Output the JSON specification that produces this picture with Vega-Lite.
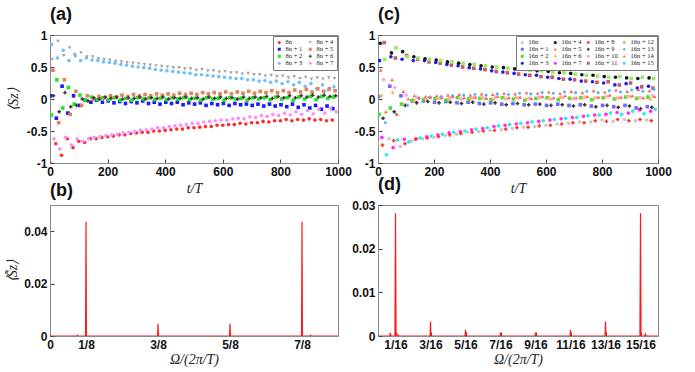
{
"$schema": "https://vega.github.io/schema/vega-lite/v6.json",
"background": "white",
"padding": {"left": 5, "top": 5, "right": 5, "bottom": 5},
"bounds": "flush",
"columns": 2,
"spacing": {"row": 42, "column": 40},
"config": {
  "view": {"stroke": "#8a8a8a", "strokeWidth": 1},
  "axis": {"grid": false, "domainColor": "#8a8a8a", "tickColor": "#444444", "tickSize": -4, "labelFont": "Liberation Sans", "labelFontWeight": "bold", "labelFontSize": 12, "labelColor": "#111111", "labelPadding": 7, "titleFont": "Liberation Serif", "titleFontStyle": "italic", "titleFontWeight": "normal", "titleFontSize": 14, "titleColor": "#222222", "labelOverlap": false, "labelFlush": false},
  "title": {"font": "Liberation Sans", "fontSize": 18, "fontWeight": "bold", "anchor": "start", "frame": "group", "offset": 5, "color": "#111111"},
  "legend": {"orient": "top-right", "offset": 1, "title": null, "labelFont": "Liberation Serif", "labelFontSize": 6.5, "labelColor": "#222222", "symbolSize": 9, "rowPadding": 0, "columnPadding": 4, "padding": 3, "labelOffset": 3, "strokeColor": "#777777", "fillColor": "white", "symbolStrokeWidth": 0}
},
"resolve": {"scale": {"color": "independent", "shape": "independent", "x": "independent", "y": "independent"}, "legend": {"color": "independent", "shape": "independent"}},
"datasets": {
"a": [
{"k":0,"t":0,"v":-1},{"k":0,"t":20,"v":-0.7},{"k":0,"t":40,"v":-0.88},{"k":0,"t":60,"v":-0.62},{"k":0,"t":80,"v":-0.76},{"k":0,"t":100,"v":-0.66},{"k":0,"t":120,"v":-0.68},{"k":0,"t":140,"v":-0.62},{"k":0,"t":160,"v":-0.62},{"k":0,"t":180,"v":-0.6},{"k":0,"t":200,"v":-0.59},{"k":0,"t":220,"v":-0.58},{"k":0,"t":240,"v":-0.56},{"k":0,"t":260,"v":-0.56},{"k":0,"t":280,"v":-0.54},{"k":0,"t":300,"v":-0.53},{"k":0,"t":320,"v":-0.52},{"k":0,"t":340,"v":-0.52},{"k":0,"t":360,"v":-0.5},{"k":0,"t":380,"v":-0.5},{"k":0,"t":400,"v":-0.49},{"k":0,"t":420,"v":-0.48},{"k":0,"t":440,"v":-0.47},{"k":0,"t":460,"v":-0.47},{"k":0,"t":480,"v":-0.45},{"k":0,"t":500,"v":-0.45},{"k":0,"t":520,"v":-0.44},{"k":0,"t":540,"v":-0.43},{"k":0,"t":560,"v":-0.43},{"k":0,"t":580,"v":-0.41},{"k":0,"t":600,"v":-0.41},{"k":0,"t":620,"v":-0.4},{"k":0,"t":640,"v":-0.4},{"k":0,"t":660,"v":-0.38},{"k":0,"t":680,"v":-0.39},{"k":0,"t":700,"v":-0.37},{"k":0,"t":720,"v":-0.37},{"k":0,"t":740,"v":-0.35},{"k":0,"t":760,"v":-0.36},{"k":0,"t":780,"v":-0.34},{"k":0,"t":800,"v":-0.34},{"k":0,"t":820,"v":-0.32},{"k":0,"t":840,"v":-0.34},{"k":0,"t":860,"v":-0.32},{"k":0,"t":880,"v":-0.33},{"k":0,"t":900,"v":-0.31},{"k":0,"t":920,"v":-0.33},{"k":0,"t":940,"v":-0.32},{"k":0,"t":960,"v":-0.34},{"k":0,"t":980,"v":-0.33},
{"k":1,"t":2,"v":0.05},{"k":1,"t":22,"v":-0.3},{"k":1,"t":42,"v":0.2},{"k":1,"t":62,"v":-0.22},{"k":1,"t":82,"v":0.05},{"k":1,"t":102,"v":-0.1},{"k":1,"t":122,"v":-0.02},{"k":1,"t":142,"v":-0.05},{"k":1,"t":162,"v":-0.02},{"k":1,"t":182,"v":-0.05},{"k":1,"t":202,"v":-0.03},{"k":1,"t":222,"v":-0.06},{"k":1,"t":242,"v":-0.04},{"k":1,"t":262,"v":-0.07},{"k":1,"t":282,"v":-0.04},{"k":1,"t":302,"v":-0.06},{"k":1,"t":322,"v":-0.03},{"k":1,"t":342,"v":-0.07},{"k":1,"t":362,"v":-0.05},{"k":1,"t":382,"v":-0.08},{"k":1,"t":402,"v":-0.05},{"k":1,"t":422,"v":-0.07},{"k":1,"t":442,"v":-0.05},{"k":1,"t":462,"v":-0.09},{"k":1,"t":482,"v":-0.06},{"k":1,"t":502,"v":-0.08},{"k":1,"t":522,"v":-0.06},{"k":1,"t":542,"v":-0.1},{"k":1,"t":562,"v":-0.07},{"k":1,"t":582,"v":-0.09},{"k":1,"t":602,"v":-0.07},{"k":1,"t":622,"v":-0.1},{"k":1,"t":642,"v":-0.07},{"k":1,"t":662,"v":-0.09},{"k":1,"t":682,"v":-0.08},{"k":1,"t":702,"v":-0.1},{"k":1,"t":722,"v":-0.08},{"k":1,"t":742,"v":-0.11},{"k":1,"t":762,"v":-0.08},{"k":1,"t":782,"v":-0.11},{"k":1,"t":802,"v":-0.09},{"k":1,"t":822,"v":-0.12},{"k":1,"t":842,"v":-0.08},{"k":1,"t":862,"v":-0.13},{"k":1,"t":882,"v":-0.09},{"k":1,"t":902,"v":-0.14},{"k":1,"t":922,"v":-0.1},{"k":1,"t":942,"v":-0.16},{"k":1,"t":962,"v":-0.11},{"k":1,"t":982,"v":-0.15},
{"k":2,"t":4,"v":-0.25},{"k":2,"t":24,"v":0.3},{"k":2,"t":44,"v":-0.14},{"k":2,"t":64,"v":0.18},{"k":2,"t":84,"v":-0.08},{"k":2,"t":104,"v":0.06},{"k":2,"t":124,"v":-0.02},{"k":2,"t":144,"v":0.03},{"k":2,"t":164,"v":-0.01},{"k":2,"t":184,"v":0.02},{"k":2,"t":204,"v":-0.01},{"k":2,"t":224,"v":0.02},{"k":2,"t":244,"v":-0.02},{"k":2,"t":264,"v":0.01},{"k":2,"t":284,"v":-0.02},{"k":2,"t":304,"v":0.02},{"k":2,"t":324,"v":0},{"k":2,"t":344,"v":0.02},{"k":2,"t":364,"v":-0.01},{"k":2,"t":384,"v":0.01},{"k":2,"t":404,"v":-0.01},{"k":2,"t":424,"v":0.02},{"k":2,"t":444,"v":0},{"k":2,"t":464,"v":0.02},{"k":2,"t":484,"v":-0.01},{"k":2,"t":504,"v":0.01},{"k":2,"t":524,"v":-0.02},{"k":2,"t":544,"v":0.02},{"k":2,"t":564,"v":0},{"k":2,"t":584,"v":0.01},{"k":2,"t":604,"v":-0.02},{"k":2,"t":624,"v":0.02},{"k":2,"t":644,"v":0},{"k":2,"t":664,"v":0.01},{"k":2,"t":684,"v":-0.02},{"k":2,"t":704,"v":0.02},{"k":2,"t":724,"v":0},{"k":2,"t":744,"v":0.02},{"k":2,"t":764,"v":-0.01},{"k":2,"t":784,"v":0.03},{"k":2,"t":804,"v":0},{"k":2,"t":824,"v":0.02},{"k":2,"t":844,"v":-0.02},{"k":2,"t":864,"v":0.03},{"k":2,"t":884,"v":0},{"k":2,"t":904,"v":0.04},{"k":2,"t":924,"v":-0.01},{"k":2,"t":944,"v":0.04},{"k":2,"t":964,"v":0.01},{"k":2,"t":984,"v":0.03},
{"k":3,"t":6,"v":0.85},{"k":3,"t":26,"v":0.64},{"k":3,"t":46,"v":0.76},{"k":3,"t":66,"v":0.6},{"k":3,"t":86,"v":0.7},{"k":3,"t":106,"v":0.6},{"k":3,"t":126,"v":0.64},{"k":3,"t":146,"v":0.61},{"k":3,"t":166,"v":0.6},{"k":3,"t":186,"v":0.58},{"k":3,"t":206,"v":0.57},{"k":3,"t":226,"v":0.56},{"k":3,"t":246,"v":0.54},{"k":3,"t":266,"v":0.53},{"k":3,"t":286,"v":0.51},{"k":3,"t":306,"v":0.5},{"k":3,"t":326,"v":0.49},{"k":3,"t":346,"v":0.48},{"k":3,"t":366,"v":0.46},{"k":3,"t":386,"v":0.45},{"k":3,"t":406,"v":0.44},{"k":3,"t":426,"v":0.43},{"k":3,"t":446,"v":0.42},{"k":3,"t":466,"v":0.41},{"k":3,"t":486,"v":0.4},{"k":3,"t":506,"v":0.38},{"k":3,"t":526,"v":0.38},{"k":3,"t":546,"v":0.37},{"k":3,"t":566,"v":0.36},{"k":3,"t":586,"v":0.35},{"k":3,"t":606,"v":0.34},{"k":3,"t":626,"v":0.33},{"k":3,"t":646,"v":0.32},{"k":3,"t":666,"v":0.32},{"k":3,"t":686,"v":0.3},{"k":3,"t":706,"v":0.3},{"k":3,"t":726,"v":0.28},{"k":3,"t":746,"v":0.29},{"k":3,"t":766,"v":0.26},{"k":3,"t":786,"v":0.28},{"k":3,"t":806,"v":0.24},{"k":3,"t":826,"v":0.27},{"k":3,"t":846,"v":0.22},{"k":3,"t":866,"v":0.26},{"k":3,"t":886,"v":0.2},{"k":3,"t":906,"v":0.24},{"k":3,"t":926,"v":0.16},{"k":3,"t":946,"v":0.22},{"k":3,"t":966,"v":0.14},{"k":3,"t":986,"v":0.19},
{"k":4,"t":8,"v":0.62},{"k":4,"t":28,"v":0.9},{"k":4,"t":48,"v":0.68},{"k":4,"t":68,"v":0.8},{"k":4,"t":88,"v":0.66},{"k":4,"t":108,"v":0.72},{"k":4,"t":128,"v":0.66},{"k":4,"t":148,"v":0.66},{"k":4,"t":168,"v":0.63},{"k":4,"t":188,"v":0.62},{"k":4,"t":208,"v":0.61},{"k":4,"t":228,"v":0.59},{"k":4,"t":248,"v":0.58},{"k":4,"t":268,"v":0.57},{"k":4,"t":288,"v":0.56},{"k":4,"t":308,"v":0.55},{"k":4,"t":328,"v":0.54},{"k":4,"t":348,"v":0.53},{"k":4,"t":368,"v":0.52},{"k":4,"t":388,"v":0.51},{"k":4,"t":408,"v":0.5},{"k":4,"t":428,"v":0.49},{"k":4,"t":448,"v":0.49},{"k":4,"t":468,"v":0.47},{"k":4,"t":488,"v":0.47},{"k":4,"t":508,"v":0.45},{"k":4,"t":528,"v":0.46},{"k":4,"t":548,"v":0.44},{"k":4,"t":568,"v":0.44},{"k":4,"t":588,"v":0.42},{"k":4,"t":608,"v":0.43},{"k":4,"t":628,"v":0.41},{"k":4,"t":648,"v":0.41},{"k":4,"t":668,"v":0.39},{"k":4,"t":688,"v":0.4},{"k":4,"t":708,"v":0.38},{"k":4,"t":728,"v":0.38},{"k":4,"t":748,"v":0.36},{"k":4,"t":768,"v":0.37},{"k":4,"t":788,"v":0.35},{"k":4,"t":808,"v":0.36},{"k":4,"t":828,"v":0.33},{"k":4,"t":848,"v":0.35},{"k":4,"t":868,"v":0.32},{"k":4,"t":888,"v":0.34},{"k":4,"t":908,"v":0.31},{"k":4,"t":928,"v":0.33},{"k":4,"t":948,"v":0.31},{"k":4,"t":968,"v":0.33},{"k":4,"t":988,"v":0.32},
{"k":5,"t":10,"v":0.45},{"k":5,"t":30,"v":-0.37},{"k":5,"t":50,"v":0.3},{"k":5,"t":70,"v":-0.24},{"k":5,"t":90,"v":0.12},{"k":5,"t":110,"v":-0.1},{"k":5,"t":130,"v":0.05},{"k":5,"t":150,"v":0},{"k":5,"t":170,"v":0.04},{"k":5,"t":190,"v":0.02},{"k":5,"t":210,"v":0.05},{"k":5,"t":230,"v":0.03},{"k":5,"t":250,"v":0.06},{"k":5,"t":270,"v":0.04},{"k":5,"t":290,"v":0.07},{"k":5,"t":310,"v":0.05},{"k":5,"t":330,"v":0.07},{"k":5,"t":350,"v":0.05},{"k":5,"t":370,"v":0.08},{"k":5,"t":390,"v":0.06},{"k":5,"t":410,"v":0.08},{"k":5,"t":430,"v":0.06},{"k":5,"t":450,"v":0.09},{"k":5,"t":470,"v":0.07},{"k":5,"t":490,"v":0.09},{"k":5,"t":510,"v":0.07},{"k":5,"t":530,"v":0.1},{"k":5,"t":550,"v":0.08},{"k":5,"t":570,"v":0.1},{"k":5,"t":590,"v":0.08},{"k":5,"t":610,"v":0.11},{"k":5,"t":630,"v":0.08},{"k":5,"t":650,"v":0.11},{"k":5,"t":670,"v":0.09},{"k":5,"t":690,"v":0.12},{"k":5,"t":710,"v":0.09},{"k":5,"t":730,"v":0.12},{"k":5,"t":750,"v":0.1},{"k":5,"t":770,"v":0.13},{"k":5,"t":790,"v":0.1},{"k":5,"t":810,"v":0.13},{"k":5,"t":830,"v":0.1},{"k":5,"t":850,"v":0.14},{"k":5,"t":870,"v":0.11},{"k":5,"t":890,"v":0.15},{"k":5,"t":910,"v":0.11},{"k":5,"t":930,"v":0.16},{"k":5,"t":950,"v":0.12},{"k":5,"t":970,"v":0.16},{"k":5,"t":990,"v":0.13},
{"k":6,"t":12,"v":0.05},{"k":6,"t":32,"v":-0.2},{"k":6,"t":52,"v":0.1},{"k":6,"t":72,"v":-0.12},{"k":6,"t":92,"v":-0.1},{"k":6,"t":112,"v":0},{"k":6,"t":132,"v":-0.03},{"k":6,"t":152,"v":0.02},{"k":6,"t":172,"v":0},{"k":6,"t":192,"v":0.03},{"k":6,"t":212,"v":0.01},{"k":6,"t":232,"v":0.03},{"k":6,"t":252,"v":0},{"k":6,"t":272,"v":0.02},{"k":6,"t":292,"v":0.01},{"k":6,"t":312,"v":0.03},{"k":6,"t":332,"v":0},{"k":6,"t":352,"v":0.02},{"k":6,"t":372,"v":0.01},{"k":6,"t":392,"v":0.03},{"k":6,"t":412,"v":0},{"k":6,"t":432,"v":0.02},{"k":6,"t":452,"v":0.01},{"k":6,"t":472,"v":0.03},{"k":6,"t":492,"v":0.01},{"k":6,"t":512,"v":0.02},{"k":6,"t":532,"v":0},{"k":6,"t":552,"v":0.03},{"k":6,"t":572,"v":0.01},{"k":6,"t":592,"v":0.03},{"k":6,"t":612,"v":0.01},{"k":6,"t":632,"v":0.02},{"k":6,"t":652,"v":0},{"k":6,"t":672,"v":0.03},{"k":6,"t":692,"v":0.01},{"k":6,"t":712,"v":0.03},{"k":6,"t":732,"v":0.02},{"k":6,"t":752,"v":0.04},{"k":6,"t":772,"v":0.01},{"k":6,"t":792,"v":0.04},{"k":6,"t":812,"v":0.02},{"k":6,"t":832,"v":0.05},{"k":6,"t":852,"v":0.02},{"k":6,"t":872,"v":0.05},{"k":6,"t":892,"v":0.03},{"k":6,"t":912,"v":0.06},{"k":6,"t":932,"v":0.03},{"k":6,"t":952,"v":0.06},{"k":6,"t":972,"v":0.04},{"k":6,"t":992,"v":0.05},
{"k":7,"t":14,"v":-0.62},{"k":7,"t":34,"v":-0.78},{"k":7,"t":54,"v":-0.6},{"k":7,"t":74,"v":-0.72},{"k":7,"t":94,"v":-0.62},{"k":7,"t":114,"v":-0.66},{"k":7,"t":134,"v":-0.62},{"k":7,"t":154,"v":-0.6},{"k":7,"t":174,"v":-0.59},{"k":7,"t":194,"v":-0.57},{"k":7,"t":214,"v":-0.56},{"k":7,"t":234,"v":-0.55},{"k":7,"t":254,"v":-0.53},{"k":7,"t":274,"v":-0.52},{"k":7,"t":294,"v":-0.51},{"k":7,"t":314,"v":-0.49},{"k":7,"t":334,"v":-0.48},{"k":7,"t":354,"v":-0.47},{"k":7,"t":374,"v":-0.45},{"k":7,"t":394,"v":-0.45},{"k":7,"t":414,"v":-0.43},{"k":7,"t":434,"v":-0.42},{"k":7,"t":454,"v":-0.41},{"k":7,"t":474,"v":-0.4},{"k":7,"t":494,"v":-0.38},{"k":7,"t":514,"v":-0.38},{"k":7,"t":534,"v":-0.36},{"k":7,"t":554,"v":-0.35},{"k":7,"t":574,"v":-0.34},{"k":7,"t":594,"v":-0.33},{"k":7,"t":614,"v":-0.33},{"k":7,"t":634,"v":-0.31},{"k":7,"t":654,"v":-0.3},{"k":7,"t":674,"v":-0.31},{"k":7,"t":694,"v":-0.28},{"k":7,"t":714,"v":-0.29},{"k":7,"t":734,"v":-0.26},{"k":7,"t":754,"v":-0.27},{"k":7,"t":774,"v":-0.24},{"k":7,"t":794,"v":-0.26},{"k":7,"t":814,"v":-0.22},{"k":7,"t":834,"v":-0.25},{"k":7,"t":854,"v":-0.2},{"k":7,"t":874,"v":-0.24},{"k":7,"t":894,"v":-0.18},{"k":7,"t":914,"v":-0.23},{"k":7,"t":934,"v":-0.16},{"k":7,"t":954,"v":-0.22},{"k":7,"t":974,"v":-0.15},{"k":7,"t":994,"v":-0.2}
],
"c": [
{"k":0,"t":0,"v":-0.7},{"k":0,"t":40,"v":-0.62},{"k":0,"t":80,"v":-0.74},{"k":0,"t":120,"v":-0.66},{"k":0,"t":160,"v":-0.62},{"k":0,"t":200,"v":-0.6},{"k":0,"t":240,"v":-0.57},{"k":0,"t":280,"v":-0.55},{"k":0,"t":320,"v":-0.52},{"k":0,"t":360,"v":-0.51},{"k":0,"t":400,"v":-0.49},{"k":0,"t":440,"v":-0.48},{"k":0,"t":480,"v":-0.46},{"k":0,"t":520,"v":-0.44},{"k":0,"t":560,"v":-0.43},{"k":0,"t":600,"v":-0.41},{"k":0,"t":640,"v":-0.39},{"k":0,"t":680,"v":-0.38},{"k":0,"t":720,"v":-0.36},{"k":0,"t":760,"v":-0.36},{"k":0,"t":800,"v":-0.33},{"k":0,"t":840,"v":-0.35},{"k":0,"t":880,"v":-0.32},{"k":0,"t":920,"v":-0.34},{"k":0,"t":960,"v":-0.33},
{"k":1,"t":2,"v":0.04},{"k":1,"t":42,"v":0.2},{"k":1,"t":82,"v":0.05},{"k":1,"t":122,"v":-0.03},{"k":1,"t":162,"v":-0.03},{"k":1,"t":202,"v":-0.05},{"k":1,"t":242,"v":-0.04},{"k":1,"t":282,"v":-0.06},{"k":1,"t":322,"v":-0.05},{"k":1,"t":362,"v":-0.07},{"k":1,"t":402,"v":-0.06},{"k":1,"t":442,"v":-0.08},{"k":1,"t":482,"v":-0.07},{"k":1,"t":522,"v":-0.09},{"k":1,"t":562,"v":-0.08},{"k":1,"t":602,"v":-0.1},{"k":1,"t":642,"v":-0.08},{"k":1,"t":682,"v":-0.1},{"k":1,"t":722,"v":-0.09},{"k":1,"t":762,"v":-0.11},{"k":1,"t":802,"v":-0.1},{"k":1,"t":842,"v":-0.12},{"k":1,"t":882,"v":-0.1},{"k":1,"t":922,"v":-0.14},{"k":1,"t":962,"v":-0.12},
{"k":2,"t":4,"v":-0.24},{"k":2,"t":44,"v":-0.14},{"k":2,"t":84,"v":-0.08},{"k":2,"t":124,"v":-0.02},{"k":2,"t":164,"v":-0.01},{"k":2,"t":204,"v":0.01},{"k":2,"t":244,"v":-0.02},{"k":2,"t":284,"v":0.02},{"k":2,"t":324,"v":0},{"k":2,"t":364,"v":0.01},{"k":2,"t":404,"v":-0.01},{"k":2,"t":444,"v":0.02},{"k":2,"t":484,"v":0},{"k":2,"t":524,"v":-0.02},{"k":2,"t":564,"v":0.01},{"k":2,"t":604,"v":0.02},{"k":2,"t":644,"v":-0.01},{"k":2,"t":684,"v":0.01},{"k":2,"t":724,"v":0.02},{"k":2,"t":764,"v":-0.01},{"k":2,"t":804,"v":0.02},{"k":2,"t":844,"v":0},{"k":2,"t":884,"v":0.03},{"k":2,"t":924,"v":0.01},{"k":2,"t":964,"v":0.03},
{"k":3,"t":6,"v":0.6},{"k":3,"t":46,"v":0.66},{"k":3,"t":86,"v":0.62},{"k":3,"t":126,"v":0.6},{"k":3,"t":166,"v":0.6},{"k":3,"t":206,"v":0.57},{"k":3,"t":246,"v":0.54},{"k":3,"t":286,"v":0.52},{"k":3,"t":326,"v":0.49},{"k":3,"t":366,"v":0.47},{"k":3,"t":406,"v":0.44},{"k":3,"t":446,"v":0.42},{"k":3,"t":486,"v":0.4},{"k":3,"t":526,"v":0.38},{"k":3,"t":566,"v":0.37},{"k":3,"t":606,"v":0.34},{"k":3,"t":646,"v":0.32},{"k":3,"t":686,"v":0.31},{"k":3,"t":726,"v":0.28},{"k":3,"t":766,"v":0.27},{"k":3,"t":806,"v":0.25},{"k":3,"t":846,"v":0.22},{"k":3,"t":886,"v":0.24},{"k":3,"t":926,"v":0.17},{"k":3,"t":966,"v":0.2},
{"k":4,"t":8,"v":0.87},{"k":4,"t":48,"v":0.72},{"k":4,"t":88,"v":0.74},{"k":4,"t":128,"v":0.66},{"k":4,"t":168,"v":0.63},{"k":4,"t":208,"v":0.61},{"k":4,"t":248,"v":0.58},{"k":4,"t":288,"v":0.56},{"k":4,"t":328,"v":0.54},{"k":4,"t":368,"v":0.52},{"k":4,"t":408,"v":0.5},{"k":4,"t":448,"v":0.49},{"k":4,"t":488,"v":0.47},{"k":4,"t":528,"v":0.46},{"k":4,"t":568,"v":0.44},{"k":4,"t":608,"v":0.43},{"k":4,"t":648,"v":0.41},{"k":4,"t":688,"v":0.4},{"k":4,"t":728,"v":0.38},{"k":4,"t":768,"v":0.37},{"k":4,"t":808,"v":0.35},{"k":4,"t":848,"v":0.34},{"k":4,"t":888,"v":0.33},{"k":4,"t":928,"v":0.32},{"k":4,"t":968,"v":0.33},
{"k":5,"t":10,"v":0.45},{"k":5,"t":50,"v":0.3},{"k":5,"t":90,"v":0.12},{"k":5,"t":130,"v":0.05},{"k":5,"t":170,"v":0.04},{"k":5,"t":210,"v":0.05},{"k":5,"t":250,"v":0.06},{"k":5,"t":290,"v":0.07},{"k":5,"t":330,"v":0.06},{"k":5,"t":370,"v":0.08},{"k":5,"t":410,"v":0.07},{"k":5,"t":450,"v":0.09},{"k":5,"t":490,"v":0.08},{"k":5,"t":530,"v":0.1},{"k":5,"t":570,"v":0.09},{"k":5,"t":610,"v":0.11},{"k":5,"t":650,"v":0.09},{"k":5,"t":690,"v":0.12},{"k":5,"t":730,"v":0.1},{"k":5,"t":770,"v":0.13},{"k":5,"t":810,"v":0.11},{"k":5,"t":850,"v":0.14},{"k":5,"t":890,"v":0.12},{"k":5,"t":930,"v":0.15},{"k":5,"t":970,"v":0.13},
{"k":6,"t":12,"v":0.05},{"k":6,"t":52,"v":0.1},{"k":6,"t":92,"v":-0.1},{"k":6,"t":132,"v":-0.03},{"k":6,"t":172,"v":0},{"k":6,"t":212,"v":0.01},{"k":6,"t":252,"v":0},{"k":6,"t":292,"v":0.01},{"k":6,"t":332,"v":0},{"k":6,"t":372,"v":0.02},{"k":6,"t":412,"v":0},{"k":6,"t":452,"v":0.01},{"k":6,"t":492,"v":0.02},{"k":6,"t":532,"v":0},{"k":6,"t":572,"v":0.02},{"k":6,"t":612,"v":0.01},{"k":6,"t":652,"v":0.03},{"k":6,"t":692,"v":0},{"k":6,"t":732,"v":0.02},{"k":6,"t":772,"v":0.01},{"k":6,"t":812,"v":0.03},{"k":6,"t":852,"v":0.01},{"k":6,"t":892,"v":0.04},{"k":6,"t":932,"v":0.02},{"k":6,"t":972,"v":0},
{"k":7,"t":14,"v":-0.6},{"k":7,"t":54,"v":-0.76},{"k":7,"t":94,"v":-0.63},{"k":7,"t":134,"v":-0.63},{"k":7,"t":174,"v":-0.59},{"k":7,"t":214,"v":-0.56},{"k":7,"t":254,"v":-0.53},{"k":7,"t":294,"v":-0.51},{"k":7,"t":334,"v":-0.48},{"k":7,"t":374,"v":-0.46},{"k":7,"t":414,"v":-0.43},{"k":7,"t":454,"v":-0.41},{"k":7,"t":494,"v":-0.39},{"k":7,"t":534,"v":-0.37},{"k":7,"t":574,"v":-0.35},{"k":7,"t":614,"v":-0.33},{"k":7,"t":654,"v":-0.31},{"k":7,"t":694,"v":-0.29},{"k":7,"t":734,"v":-0.27},{"k":7,"t":774,"v":-0.25},{"k":7,"t":814,"v":-0.24},{"k":7,"t":854,"v":-0.21},{"k":7,"t":894,"v":-0.22},{"k":7,"t":934,"v":-0.17},{"k":7,"t":974,"v":-0.19},
{"k":8,"t":16,"v":-0.72},{"k":8,"t":56,"v":-0.65},{"k":8,"t":96,"v":-0.7},{"k":8,"t":136,"v":-0.62},{"k":8,"t":176,"v":-0.61},{"k":8,"t":216,"v":-0.59},{"k":8,"t":256,"v":-0.56},{"k":8,"t":296,"v":-0.54},{"k":8,"t":336,"v":-0.52},{"k":8,"t":376,"v":-0.5},{"k":8,"t":416,"v":-0.49},{"k":8,"t":456,"v":-0.47},{"k":8,"t":496,"v":-0.45},{"k":8,"t":536,"v":-0.44},{"k":8,"t":576,"v":-0.42},{"k":8,"t":616,"v":-0.41},{"k":8,"t":656,"v":-0.39},{"k":8,"t":696,"v":-0.37},{"k":8,"t":736,"v":-0.37},{"k":8,"t":776,"v":-0.34},{"k":8,"t":816,"v":-0.35},{"k":8,"t":856,"v":-0.32},{"k":8,"t":896,"v":-0.34},{"k":8,"t":936,"v":-0.32},{"k":8,"t":976,"v":-0.34},
{"k":9,"t":18,"v":-0.3},{"k":9,"t":58,"v":-0.2},{"k":9,"t":98,"v":-0.1},{"k":9,"t":138,"v":-0.06},{"k":9,"t":178,"v":-0.04},{"k":9,"t":218,"v":-0.06},{"k":9,"t":258,"v":-0.05},{"k":9,"t":298,"v":-0.07},{"k":9,"t":338,"v":-0.05},{"k":9,"t":378,"v":-0.08},{"k":9,"t":418,"v":-0.06},{"k":9,"t":458,"v":-0.09},{"k":9,"t":498,"v":-0.07},{"k":9,"t":538,"v":-0.09},{"k":9,"t":578,"v":-0.08},{"k":9,"t":618,"v":-0.1},{"k":9,"t":658,"v":-0.09},{"k":9,"t":698,"v":-0.11},{"k":9,"t":738,"v":-0.09},{"k":9,"t":778,"v":-0.12},{"k":9,"t":818,"v":-0.1},{"k":9,"t":858,"v":-0.13},{"k":9,"t":898,"v":-0.11},{"k":9,"t":938,"v":-0.15},{"k":9,"t":978,"v":-0.13},
{"k":10,"t":20,"v":0.3},{"k":10,"t":60,"v":0.18},{"k":10,"t":100,"v":0.06},{"k":10,"t":140,"v":0.03},{"k":10,"t":180,"v":0.02},{"k":10,"t":220,"v":0.01},{"k":10,"t":260,"v":0.02},{"k":10,"t":300,"v":0},{"k":10,"t":340,"v":0.02},{"k":10,"t":380,"v":0.01},{"k":10,"t":420,"v":0.03},{"k":10,"t":460,"v":0},{"k":10,"t":500,"v":0.02},{"k":10,"t":540,"v":0.01},{"k":10,"t":580,"v":0.03},{"k":10,"t":620,"v":0},{"k":10,"t":660,"v":0.02},{"k":10,"t":700,"v":0.01},{"k":10,"t":740,"v":0.03},{"k":10,"t":780,"v":0.02},{"k":10,"t":820,"v":0.04},{"k":10,"t":860,"v":0.01},{"k":10,"t":900,"v":0.04},{"k":10,"t":940,"v":0.02},{"k":10,"t":980,"v":0.05},
{"k":11,"t":22,"v":0.88},{"k":11,"t":62,"v":0.64},{"k":11,"t":102,"v":0.68},{"k":11,"t":142,"v":0.62},{"k":11,"t":182,"v":0.58},{"k":11,"t":222,"v":0.56},{"k":11,"t":262,"v":0.53},{"k":11,"t":302,"v":0.5},{"k":11,"t":342,"v":0.48},{"k":11,"t":382,"v":0.46},{"k":11,"t":422,"v":0.43},{"k":11,"t":462,"v":0.41},{"k":11,"t":502,"v":0.39},{"k":11,"t":542,"v":0.37},{"k":11,"t":582,"v":0.35},{"k":11,"t":622,"v":0.34},{"k":11,"t":662,"v":0.31},{"k":11,"t":702,"v":0.3},{"k":11,"t":742,"v":0.28},{"k":11,"t":782,"v":0.26},{"k":11,"t":822,"v":0.27},{"k":11,"t":862,"v":0.22},{"k":11,"t":902,"v":0.25},{"k":11,"t":942,"v":0.19},{"k":11,"t":982,"v":0.17},
{"k":12,"t":24,"v":0.62},{"k":12,"t":64,"v":0.8},{"k":12,"t":104,"v":0.66},{"k":12,"t":144,"v":0.64},{"k":12,"t":184,"v":0.62},{"k":12,"t":224,"v":0.6},{"k":12,"t":264,"v":0.58},{"k":12,"t":304,"v":0.56},{"k":12,"t":344,"v":0.54},{"k":12,"t":384,"v":0.52},{"k":12,"t":424,"v":0.5},{"k":12,"t":464,"v":0.48},{"k":12,"t":504,"v":0.47},{"k":12,"t":544,"v":0.45},{"k":12,"t":584,"v":0.44},{"k":12,"t":624,"v":0.42},{"k":12,"t":664,"v":0.41},{"k":12,"t":704,"v":0.39},{"k":12,"t":744,"v":0.37},{"k":12,"t":784,"v":0.36},{"k":12,"t":824,"v":0.34},{"k":12,"t":864,"v":0.35},{"k":12,"t":904,"v":0.32},{"k":12,"t":944,"v":0.34},{"k":12,"t":984,"v":0.32},
{"k":13,"t":26,"v":-0.37},{"k":13,"t":66,"v":-0.24},{"k":13,"t":106,"v":-0.1},{"k":13,"t":146,"v":0.01},{"k":13,"t":186,"v":0.03},{"k":13,"t":226,"v":0.04},{"k":13,"t":266,"v":0.05},{"k":13,"t":306,"v":0.06},{"k":13,"t":346,"v":0.07},{"k":13,"t":386,"v":0.06},{"k":13,"t":426,"v":0.08},{"k":13,"t":466,"v":0.07},{"k":13,"t":506,"v":0.09},{"k":13,"t":546,"v":0.08},{"k":13,"t":586,"v":0.1},{"k":13,"t":626,"v":0.09},{"k":13,"t":666,"v":0.11},{"k":13,"t":706,"v":0.1},{"k":13,"t":746,"v":0.12},{"k":13,"t":786,"v":0.1},{"k":13,"t":826,"v":0.13},{"k":13,"t":866,"v":0.11},{"k":13,"t":906,"v":0.14},{"k":13,"t":946,"v":0.12},{"k":13,"t":986,"v":0.15},
{"k":14,"t":28,"v":-0.2},{"k":14,"t":68,"v":-0.24},{"k":14,"t":108,"v":0},{"k":14,"t":148,"v":0.02},{"k":14,"t":188,"v":0.03},{"k":14,"t":228,"v":0.02},{"k":14,"t":268,"v":0.04},{"k":14,"t":308,"v":0.02},{"k":14,"t":348,"v":0.03},{"k":14,"t":388,"v":0.01},{"k":14,"t":428,"v":0.04},{"k":14,"t":468,"v":0.02},{"k":14,"t":508,"v":0.03},{"k":14,"t":548,"v":0.01},{"k":14,"t":588,"v":0.04},{"k":14,"t":628,"v":0.02},{"k":14,"t":668,"v":0.05},{"k":14,"t":708,"v":0.02},{"k":14,"t":748,"v":0.04},{"k":14,"t":788,"v":0.03},{"k":14,"t":828,"v":0.06},{"k":14,"t":868,"v":0.03},{"k":14,"t":908,"v":0.05},{"k":14,"t":948,"v":0.02},{"k":14,"t":988,"v":0.04},
{"k":15,"t":30,"v":-0.87},{"k":15,"t":70,"v":-0.64},{"k":15,"t":110,"v":-0.67},{"k":15,"t":150,"v":-0.61},{"k":15,"t":190,"v":-0.58},{"k":15,"t":230,"v":-0.55},{"k":15,"t":270,"v":-0.52},{"k":15,"t":310,"v":-0.5},{"k":15,"t":350,"v":-0.47},{"k":15,"t":390,"v":-0.45},{"k":15,"t":430,"v":-0.42},{"k":15,"t":470,"v":-0.4},{"k":15,"t":510,"v":-0.38},{"k":15,"t":550,"v":-0.36},{"k":15,"t":590,"v":-0.34},{"k":15,"t":630,"v":-0.32},{"k":15,"t":670,"v":-0.3},{"k":15,"t":710,"v":-0.29},{"k":15,"t":750,"v":-0.26},{"k":15,"t":790,"v":-0.25},{"k":15,"t":830,"v":-0.22},{"k":15,"t":870,"v":-0.24},{"k":15,"t":910,"v":-0.19},{"k":15,"t":950,"v":-0.23},{"k":15,"t":990,"v":-0.16}
],
"b": [
{"f":0,"a":0},{"f":0.093,"a":0},{"f":0.095,"a":0.0003},{"f":0.097,"a":0},{"f":0.1235,"a":0},{"f":0.125,"a":0.0436},{"f":0.1265,"a":0},{"f":0.3735,"a":0},{"f":0.375,"a":0.0047},{"f":0.3765,"a":0},{"f":0.6235,"a":0},{"f":0.625,"a":0.0047},{"f":0.6265,"a":0},{"f":0.8735,"a":0},{"f":0.875,"a":0.0436},{"f":0.8765,"a":0},{"f":0.903,"a":0},{"f":0.905,"a":0.0003},{"f":0.907,"a":0},{"f":1,"a":0}
],
"d": [
{"f":0,"a":0},{"f":0.042,"a":0},{"f":0.044,"a":0.0007},{"f":0.046,"a":0},{"f":0.0605,"a":0},{"f":0.0625,"a":0.0281},{"f":0.0645,"a":0},{"f":0.07,"a":0.0003},{"f":0.074,"a":0},{"f":0.186,"a":0},{"f":0.1875,"a":0.0033},{"f":0.189,"a":0},{"f":0.311,"a":0},{"f":0.3125,"a":0.0014},{"f":0.314,"a":0},{"f":0.436,"a":0},{"f":0.4375,"a":0.0008},{"f":0.439,"a":0},{"f":0.561,"a":0},{"f":0.5625,"a":0.0008},{"f":0.564,"a":0},{"f":0.686,"a":0},{"f":0.6875,"a":0.0014},{"f":0.689,"a":0},{"f":0.811,"a":0},{"f":0.8125,"a":0.0033},{"f":0.814,"a":0},{"f":0.9355,"a":0},{"f":0.9375,"a":0.0281},{"f":0.9395,"a":0},{"f":0.953,"a":0},{"f":0.955,"a":0.0006},{"f":0.957,"a":0},{"f":1,"a":0}
]
},
"concat": [
  {
   "title": "(a)",
   "width": 288, "height": 128,
   "data": {"name": "a"},
   "mark": {"type": "point", "filled": true, "size": 13, "opacity": 1, "clip": true},
   "encoding": {
    "x": {"field": "t", "type": "quantitative", "scale": {"domain": [0, 1000], "nice": false}, "axis": {"title": "t/T", "values": [0,200,400,600,800,1000], "format": "d", "titlePadding": 4}},
    "y": {"field": "v", "type": "quantitative", "scale": {"domain": [-1, 1], "nice": false}, "axis": {"title": "⟨Sz⟩", "values": [-1,-0.5,0,0.5,1], "labelExpr": "'' + datum.value", "titlePadding": 6}},
    "color": {"field": "k", "type": "nominal", "scale": {"domain": [0,1,2,3,4,5,6,7], "range": ["#ff2a2a","#1a1aff","#1ee61e","#6ec1ff","#a0a0a0","#e0825a","#3a3a3a","#ff8cff"]}, "legend": {"columns": 2, "labelExpr": "datum.value == 0 ? '8n' : '8n + ' + datum.value"}},
    "shape": {"field": "k", "type": "nominal", "scale": {"domain": [0,1,2,3,4,5,6,7], "range": ["circle","square","square","circle","triangle-down","square","cross","circle"]}, "legend": {"columns": 2, "labelExpr": "datum.value == 0 ? '8n' : '8n + ' + datum.value"}}
   }
  },
  {
   "title": "(c)",
   "width": 280, "height": 128,
   "data": {"name": "c"},
   "mark": {"type": "point", "filled": true, "size": 13, "opacity": 1, "clip": true},
   "encoding": {
    "x": {"field": "t", "type": "quantitative", "scale": {"domain": [0, 1000], "nice": false}, "axis": {"title": "t/T", "values": [0,200,400,600,800,1000], "format": "d", "titlePadding": 4}},
    "y": {"field": "v", "type": "quantitative", "scale": {"domain": [-1, 1], "nice": false}, "axis": {"title": null, "values": [-1,-0.5,0,0.5,1], "labelExpr": "'' + datum.value"}},
    "color": {"field": "k", "type": "nominal", "scale": {"domain": [0,1,2,3,4,5,6,7,8,9,10,11,12,13,14,15], "range": ["#c8c8c8","#6b6bff","#4cdc3c","#1a1aee","#111111","#ff5a5a","#ffb84a","#ff28ff","#ff3030","#333333","#ffa6e0","#c85a6e","#9be86a","#3fb0ff","#ff6a2a","#28eaea"]}, "legend": {"columns": 4, "columnPadding": 3, "labelExpr": "datum.value == 0 ? '16n' : '16n + ' + datum.value"}},
    "shape": {"field": "k", "type": "nominal", "scale": {"domain": [0,1,2,3,4,5,6,7,8,9,10,11,12,13,14,15], "range": ["circle","square","square","circle","circle","triangle-up","cross","circle","cross","cross","circle","square","square","diamond","triangle-up","circle"]}, "legend": {"columns": 4, "columnPadding": 3, "labelExpr": "datum.value == 0 ? '16n' : '16n + ' + datum.value"}}
   }
  },
  {
   "title": "(b)",
   "width": 288, "height": 131,
   "data": {"name": "b"},
   "mark": {"type": "line", "color": "#ff1a1a", "strokeWidth": 1.2, "clip": true},
   "encoding": {
    "x": {"field": "f", "type": "quantitative", "scale": {"domain": [0, 1], "nice": false}, "axis": {"title": "Ω/(2π/T)", "values": [0,0.125,0.375,0.625,0.875], "labelExpr": "datum.value == 0 ? '0' : (datum.value * 8) + '/8'", "titlePadding": 2}},
    "y": {"field": "a", "type": "quantitative", "scale": {"domain": [0, 0.05], "nice": false}, "axis": {"title": "⟨S̃z⟩", "values": [0,0.02,0.04], "labelExpr": "'' + datum.value", "titlePadding": 4}}
   }
  },
  {
   "title": "(d)",
   "width": 280, "height": 131,
   "data": {"name": "d"},
   "mark": {"type": "line", "color": "#ff1a1a", "strokeWidth": 1.2, "clip": true},
   "encoding": {
    "x": {"field": "f", "type": "quantitative", "scale": {"domain": [0, 1], "nice": false}, "axis": {"title": "Ω/(2π/T)", "values": [0.0625,0.1875,0.3125,0.4375,0.5625,0.6875,0.8125,0.9375], "labelExpr": "(datum.value * 16) + '/16'", "titlePadding": 2}},
    "y": {"field": "a", "type": "quantitative", "scale": {"domain": [0, 0.03], "nice": false}, "axis": {"title": null, "values": [0,0.01,0.02,0.03], "labelExpr": "'' + datum.value"}}
   }
  }
]
}
